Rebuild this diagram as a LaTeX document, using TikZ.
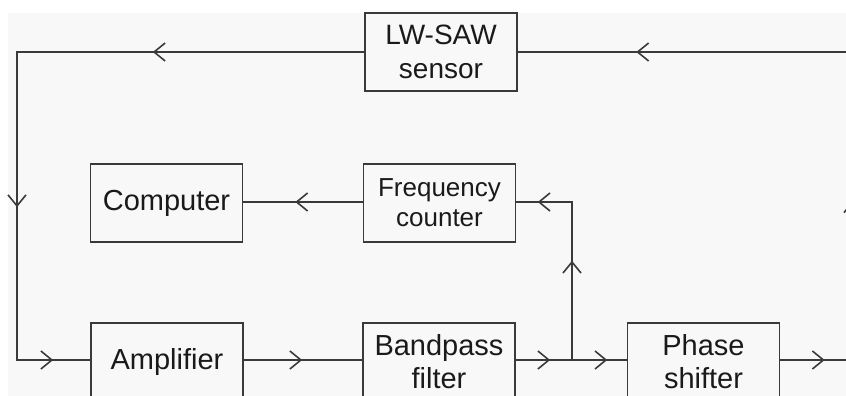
\documentclass[tikz,border=0pt]{standalone}
\usepackage{fontspec}
\setmainfont{Liberation Sans}
\usetikzlibrary{decorations.markings}
\definecolor{bgcol}{HTML}{F8F8F8}
\definecolor{linecol}{HTML}{3A3A3A}
\definecolor{txtcol}{HTML}{1A1A1A}
\tikzset{
  blockbox/.style={draw=linecol, line width=1.8pt, fill=bgcol, minimum width=152pt, minimum height=78pt,
    inner sep=0pt, align=center, text=txtcol, font=\fontsize{29}{33}\selectfont},
  wire/.style={draw=linecol, line width=1.6pt},
  chev/.style={postaction={decorate, decoration={markings,
    mark=at position #1 with {\draw[linecol, line width=1.6pt, line join=miter] (-6,9) -- (5,0) -- (-6,-9);}}}},
}
\begin{document}
\begin{tikzpicture}[x=1pt,y=-1pt]
\useasboundingbox (0,0) rectangle (846,396);
\clip (0,0) rectangle (846,396);
\fill[white] (0,0) rectangle (846,396);
\fill[bgcol] (8,13) rectangle (846,396);

\node[blockbox, font=\fontsize{28}{34}\selectfont] (sensor) at (441,52) {LW-SAW\\sensor};
\node[blockbox] (computer) at (166.5,203) {Computer};
\node[blockbox, font=\fontsize{26}{30}\selectfont] (freq) at (439.5,203) {Frequency\\counter};
\node[blockbox] (amp) at (167,362) {Amplifier};
\node[blockbox] (bpf) at (439,362) {Bandpass\\filter};
\node[blockbox] (ps) at (703.5,362) {Phase\\shifter};

\coordinate (tl) at (17,52);
\coordinate (bl) at (17,360);
\coordinate (jn) at (572,360);
\coordinate (jt) at (572,202);
\coordinate (rb) at (853,360);
\coordinate (rt) at (853,52);

% loop back through the sensor
\path[wire, chev=38pt, chev=226pt, chev=591pt] (ps.east |- rb) -- (rb) -- (rt) -- (sensor.east |- rt);
\path[wire, chev=205pt, chev=496pt, chev=685pt] (sensor.west |- tl) -- (tl) -- (bl) -- (amp.west |- bl);
% main chain
\path[wire, chev=52pt] (amp.east |- bl) -- (bpf.west |- bl);
\path[wire, chev=28pt] (bpf.east |- bl) -- (jn);
\path[wire, chev=29pt] (jn) -- (ps.west |- bl);
% branch to frequency counter
\path[wire, chev=93pt, chev=186pt] (jn) -- (jt) -- (freq.east |- jt);
\path[wire, chev=61pt] (freq.west |- jt) -- (computer.east |- jt);
\end{tikzpicture}
\end{document}
